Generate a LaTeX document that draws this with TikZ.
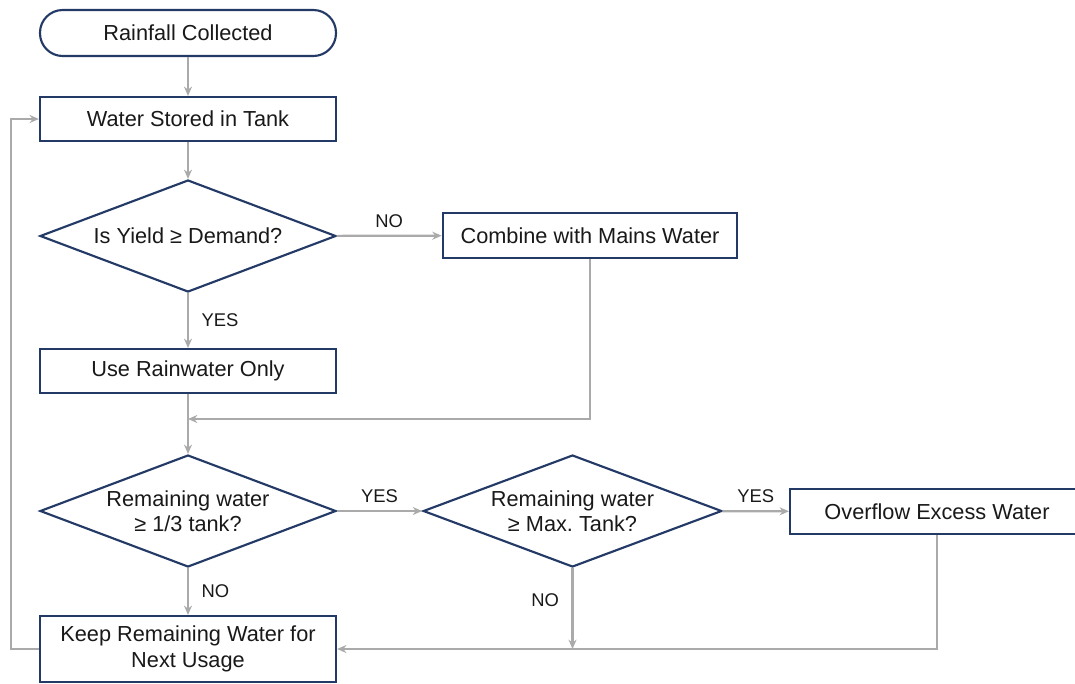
\documentclass[tikz,border=0pt]{standalone}
\usepackage{fontspec}
\setmainfont{Liberation Sans}
\usetikzlibrary{shapes.geometric,arrows.meta,positioning}
\definecolor{tanknavy}{RGB}{36,58,102}
\definecolor{flowgray}{RGB}{170,170,170}
\definecolor{textdark}{RGB}{25,25,25}
\frenchspacing

\begin{document}
\begin{tikzpicture}[x=0.75pt,y=-0.75pt,
    box/.style={draw=tanknavy,line width=1.6pt,fill=white,minimum width=222pt,minimum height=33pt,inner sep=0pt,align=center,text=textdark,font=\fontsize{16.3}{19.5}\selectfont},
    terminal/.style={box,rounded corners=17pt,minimum height=34.5pt},
    decision/.style={diamond,draw=tanknavy,line width=1.6pt,fill=white,minimum width=222pt,minimum height=84pt,inner sep=0pt},
    dtext/.style={align=center,text=textdark,font=\fontsize{16.3}{19}\selectfont},
    flow/.style={draw=flowgray,line width=1.6pt,-{Stealth[length=7pt,width=6pt]}},
    answer/.style={text=textdark,font=\fontsize{13.8}{16}\selectfont}]
    \clip (0,0) rectangle (1075,683);
    \useasboundingbox (0,0) rectangle (1075,683);

    \node[terminal] (rain) at (188,33) {Rainfall Collected};
    \node[box] (store) at (188,119) {Water Stored in Tank};
    \node[decision] (yield) at (188,236) {};
    \node[dtext] (yieldtxt) at (yield) {Is Yield ≥ Demand?};
    \node[box,minimum width=221pt,minimum height=34pt] (mains) at (590,235.5) {Combine with Mains Water};
    \node[box] (rainonly) at (188,371) {Use Rainwater Only};
    \node[decision] (third) at (188,511) {};
    \node[dtext] (thirdtxt) at (third) {Remaining water\\≥ 1/3 tank?};
    \node[decision,minimum width=224pt] (maxtank) at (572.5,511) {};
    \node[dtext] (maxtxt) at (maxtank) {Remaining water\\≥ Max. Tank?};
    \node[box,minimum width=220.5pt,minimum height=33.5pt] (overflow) at (937,511.5) {Overflow Excess Water};
    \node[box,minimum height=49.5pt] (keep) at (188,649) {Keep Remaining Water for\\Next Usage};

    \coordinate (merge) at (188,419);
    \coordinate (loopx) at (11,0);

    \draw[flow] (rain) -- (store);
    \draw[flow] (store) -- (yield);
    \draw[flow] (yield) -- node[answer,above=2pt] {NO} (mains);
    \draw[flow] (yield) -- node[answer,right=6pt] {YES} (rainonly);
    \draw[flow] (mains) |- (merge);
    \draw[flow] (rainonly) -- (third);
    \draw[flow] (third) -- node[answer,above=2pt] {YES} (maxtank);
    \draw[flow] (maxtank) -- node[answer,above=2pt] {YES} (overflow);
    \draw[flow] (third) -- node[answer,right=6pt] {NO} (keep);
    \draw[flow] (maxtank.south) -- node[answer,left=6pt,pos=0.4] {NO} (maxtank.south |- keep.east);
    \draw[flow] (overflow) |- (keep.east);
    \draw[flow] (keep.west) -- (keep.west -| loopx) |- (store.west);
\end{tikzpicture}
\end{document}
